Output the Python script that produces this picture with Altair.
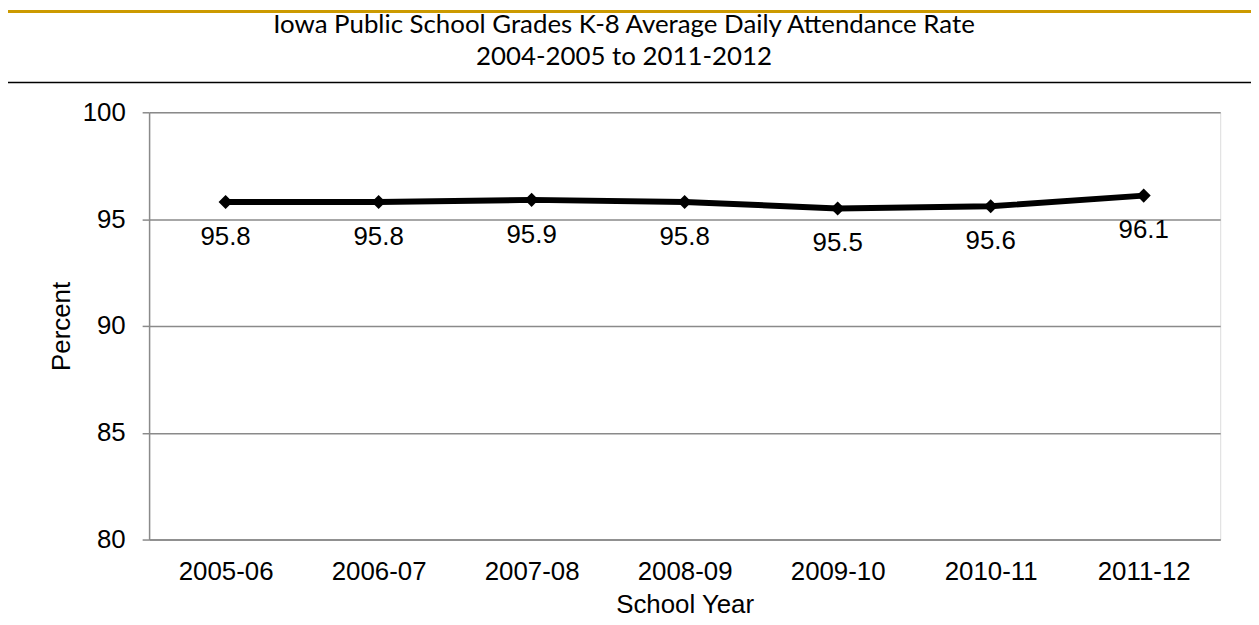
import altair as alt
import pandas as pd

years = ["2005-06", "2006-07", "2007-08", "2008-09", "2009-10", "2010-11", "2011-12"]
rates = [95.8, 95.8, 95.9, 95.8, 95.5, 95.6, 96.1]
y_ticks = [80, 85, 90, 95, 100]
title_line1 = "Iowa Public School Grades K-8 Average Daily Attendance Rate"
title_line2 = "2004-2005 to 2011-2012"

df = pd.DataFrame({"year": years, "rate": rates})
one = pd.DataFrame({"a": [0]})

GRAY = "#8a8a8a"
GOLD = "#CC9A00"
FONT = "Liberation Sans"
TFONT = "Lato"
FS = 26
W, H = 1078, 430
PAD_L, PAD_T = 142, 103

x_enc = alt.X(
    "year:N", sort=years,
    scale=alt.Scale(type="point", padding=0.5),
    axis=alt.Axis(title="School Year", labelAngle=0, ticks=False, grid=False,
                  domainColor=GRAY, domainWidth=1.5, labelFontSize=FS, labelPadding=19,
                  titleFontSize=FS, titlePadding=7, labelFont=FONT, titleFont=FONT,
                  titleFontWeight="normal", labelColor="black", titleColor="black"),
)
y_enc = alt.Y(
    "rate:Q",
    scale=alt.Scale(domain=[80, 100], nice=False, zero=False),
    axis=alt.Axis(title="Percent", values=y_ticks, tickSize=7, tickColor=GRAY, tickWidth=1.5,
                  domainColor=GRAY, domainWidth=1.5, gridColor=GRAY, gridWidth=1.5,
                  labelFontSize=FS, labelPadding=17, titleFontSize=FS, titlePadding=8,
                  labelFont=FONT, titleFont=FONT, titleFontWeight="normal",
                  labelColor="black", titleColor="black"),
)

base = alt.Chart(df).encode(x=x_enc, y=y_enc)
line = base.mark_line(color="black", strokeWidth=6)
pts = base.mark_point(shape="diamond", filled=True, color="black", size=200, opacity=1)
labels = base.mark_text(dy=35, fontSize=FS, font=FONT, color="black", baseline="middle").encode(
    text=alt.Text("rate:Q", format=".1f"))

gold = alt.Chart(one).mark_rule(color=GOLD, strokeWidth=3).encode(
    x=alt.value(-PAD_L), x2=alt.value(W + 31), y=alt.value(-101.5))
black = alt.Chart(one).mark_rule(color="black", strokeWidth=1.5).encode(
    x=alt.value(-PAD_L), x2=alt.value(W + 31), y=alt.value(-30))
t1 = alt.Chart(one).mark_text(text=title_line1, font=TFONT, fontSize=26, color="black",
                              align="center", baseline="middle").encode(
    x=alt.value(478), y=alt.value(-88))
t2 = alt.Chart(one).mark_text(text=title_line2, font=TFONT, fontSize=26, color="black",
                              align="center", baseline="middle").encode(
    x=alt.value(478), y=alt.value(-56))

chart = alt.layer(line, pts, labels, gold, black, t1, t2).properties(
    width=W, height=H,
    autosize=alt.AutoSizeParams(type="none"),
    padding={"left": PAD_L, "top": PAD_T, "right": 31, "bottom": 76},
).configure_view(stroke=None).configure(background="white")

chart.save("out.html", embed_options={"renderer": "svg", "actions": False})
